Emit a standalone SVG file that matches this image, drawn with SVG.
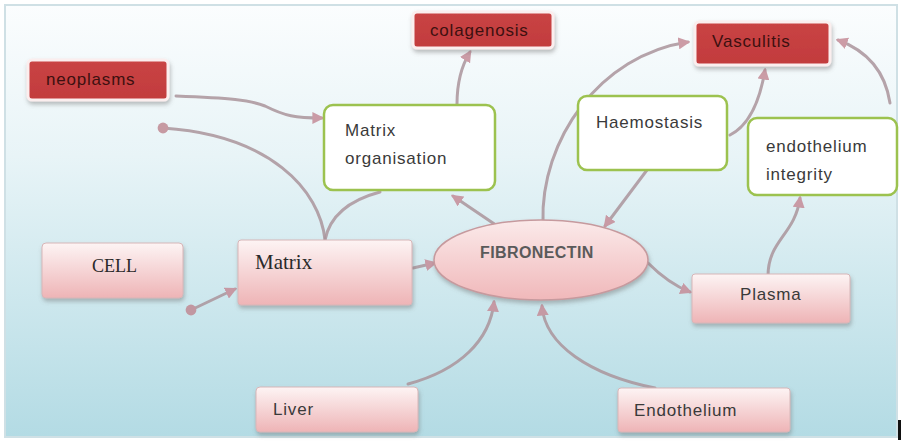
<svg xmlns="http://www.w3.org/2000/svg" width="904" height="444" viewBox="0 0 904 444">
<defs>
<linearGradient id="bg" x1="0" y1="0" x2="0" y2="1">
<stop offset="0" stop-color="#fbfdfe"/>
<stop offset="0.35" stop-color="#e8f4f7"/>
<stop offset="1" stop-color="#b3dbe4"/>
</linearGradient>
<linearGradient id="pink" x1="0" y1="0" x2="0" y2="1">
<stop offset="0" stop-color="#fdf4f4"/>
<stop offset="1" stop-color="#eeb4b6"/>
</linearGradient>
<linearGradient id="ell" x1="0" y1="0" x2="0" y2="1">
<stop offset="0" stop-color="#fbeaea"/>
<stop offset="1" stop-color="#f0b8ba"/>
</linearGradient>
<linearGradient id="red" x1="0" y1="0" x2="0" y2="1">
<stop offset="0" stop-color="#c94444"/>
<stop offset="1" stop-color="#c23b3d"/>
</linearGradient>
<filter id="sh" x="-10%" y="-10%" width="125%" height="140%">
<feDropShadow dx="1" dy="3" stdDeviation="2" flood-color="#707070" flood-opacity="0.45"/>
</filter>
<marker id="ar" viewBox="0 0 10 10" refX="8" refY="5" markerWidth="4" markerHeight="4" orient="auto">
<path d="M0,0 L10,5 L0,10 z" fill="#c58c98"/>
</marker>
<marker id="dot" viewBox="0 0 10 10" refX="5" refY="5" markerWidth="4" markerHeight="4">
<circle cx="5" cy="5" r="4.5" fill="#c08a94"/>
</marker>
<style>
.red{fill:url(#red);stroke:#fbeeee;stroke-width:3;filter:url(#sh)}
.grn{fill:#ffffff;stroke:#9cc24f;stroke-width:2.5}
.pnk{fill:url(#pink);stroke:#d7b6b8;stroke-width:1;filter:url(#sh)}
.t{font-family:"Liberation Sans",Arial,sans-serif;font-size:17px;letter-spacing:0.8px;fill:#3a3a3a}
.tr{font-family:"Liberation Sans",Arial,sans-serif;font-size:17px;letter-spacing:0.8px;fill:#3d1010}
.ts{font-family:"Liberation Serif","Times New Roman",serif;fill:#2a2a2a}
.c{fill:none;stroke:#ab959c;stroke-width:3;stroke-linecap:round;opacity:0.85}
</style>
</defs>
<rect x="5" y="5" width="892" height="432" fill="url(#bg)" stroke="#cfe0e5" stroke-width="2"/>
<rect x="898" y="420" width="3" height="20" fill="#111"/>

<g id="connectors">
<path class="c" d="M176,96 C230,98 250,100 265,106 C285,116 295,118 322,118" marker-end="url(#ar)"/>
<path class="c" d="M325,240 C320,190 270,135 163,128" marker-end="url(#dot)"/>
<path class="c" d="M325,240 C330,215 350,200 380,192"/>
<path class="c" d="M457,104 C457,80 462,65 470,52" marker-end="url(#ar)"/>
<path class="c" d="M512,236 L453,196" marker-end="url(#ar)"/>
<path class="c" d="M543,223 C540,140 600,55 688,42" marker-end="url(#ar)"/>
<path class="c" d="M653,162 L605,226" marker-end="url(#ar)"/>
<path class="c" d="M730,135 C750,125 760,100 765,70" marker-end="url(#ar)"/>
<path class="c" d="M890,103 C885,70 865,50 838,40" marker-end="url(#ar)"/>
<path class="c" d="M768,276 C768,240 795,235 800,198" marker-end="url(#ar)"/>
<path class="c" d="M648,263 C660,275 672,285 690,292" marker-end="url(#ar)"/>
<path class="c" d="M413,268 L435,263" marker-end="url(#ar)"/>
<path class="c" d="M191,310 L235,289" marker-start="url(#dot)" marker-end="url(#ar)"/>
<path class="c" d="M408,384 C460,370 490,340 494,302" marker-end="url(#ar)"/>
<path class="c" d="M655,388 C590,375 545,345 542,306" marker-end="url(#ar)"/>
</g>

<g id="neoplasms"><rect class="red" x="28" y="60" width="140" height="40" rx="4"/><text class="tr" x="46" y="85">neoplasms</text></g>
<g id="colagenosis"><rect class="red" x="413" y="12" width="140" height="36" rx="4"/><text class="tr" x="430" y="36">colagenosis</text></g>
<g id="vasculitis"><rect class="red" x="695" y="22" width="135" height="43" rx="4"/><text class="tr" x="712" y="47">Vasculitis</text></g>

<g id="matrix-organisation"><rect class="grn" x="324" y="105" width="171" height="85" rx="9"/><text class="t" x="345" y="136">Matrix</text><text class="t" x="345" y="164">organisation</text></g>
<g id="haemostasis"><rect class="grn" x="578" y="96" width="149" height="74" rx="9"/><text class="t" x="596" y="128">Haemostasis</text></g>
<g id="endothelium-integrity"><rect class="grn" x="748" y="118" width="149" height="77" rx="9"/><text class="t" x="766" y="152">endothelium</text><text class="t" x="766" y="180">integrity</text></g>

<g id="cell"><rect class="pnk" x="42" y="243" width="141" height="55" rx="4"/><text class="ts" x="92" y="272" font-size="18">CELL</text></g>
<g id="matrix"><rect class="pnk" x="238" y="240" width="174" height="65" rx="3"/><text class="ts" x="255" y="269" font-size="21">Matrix</text></g>
<g id="fibronectin"><ellipse cx="541" cy="260" rx="107" ry="40" fill="url(#ell)" stroke="#c69a9e" stroke-width="1.5" filter="url(#sh)"/><text x="480" y="258" font-family="Liberation Sans,Arial,sans-serif" font-size="16" font-weight="bold" letter-spacing="0.4" fill="#5a5a5a">FIBRONECTIN</text></g>
<g id="plasma"><rect class="pnk" x="692" y="274" width="158" height="49" rx="3"/><text class="t" x="740" y="300">Plasma</text></g>
<g id="liver"><rect class="pnk" x="256" y="387" width="162" height="45" rx="4"/><text class="t" x="273" y="415">Liver</text></g>
<g id="endothelium"><rect class="pnk" x="618" y="388" width="172" height="44" rx="3"/><text class="t" x="634" y="416" letter-spacing="1.4">Endothelium</text></g>
</svg>
